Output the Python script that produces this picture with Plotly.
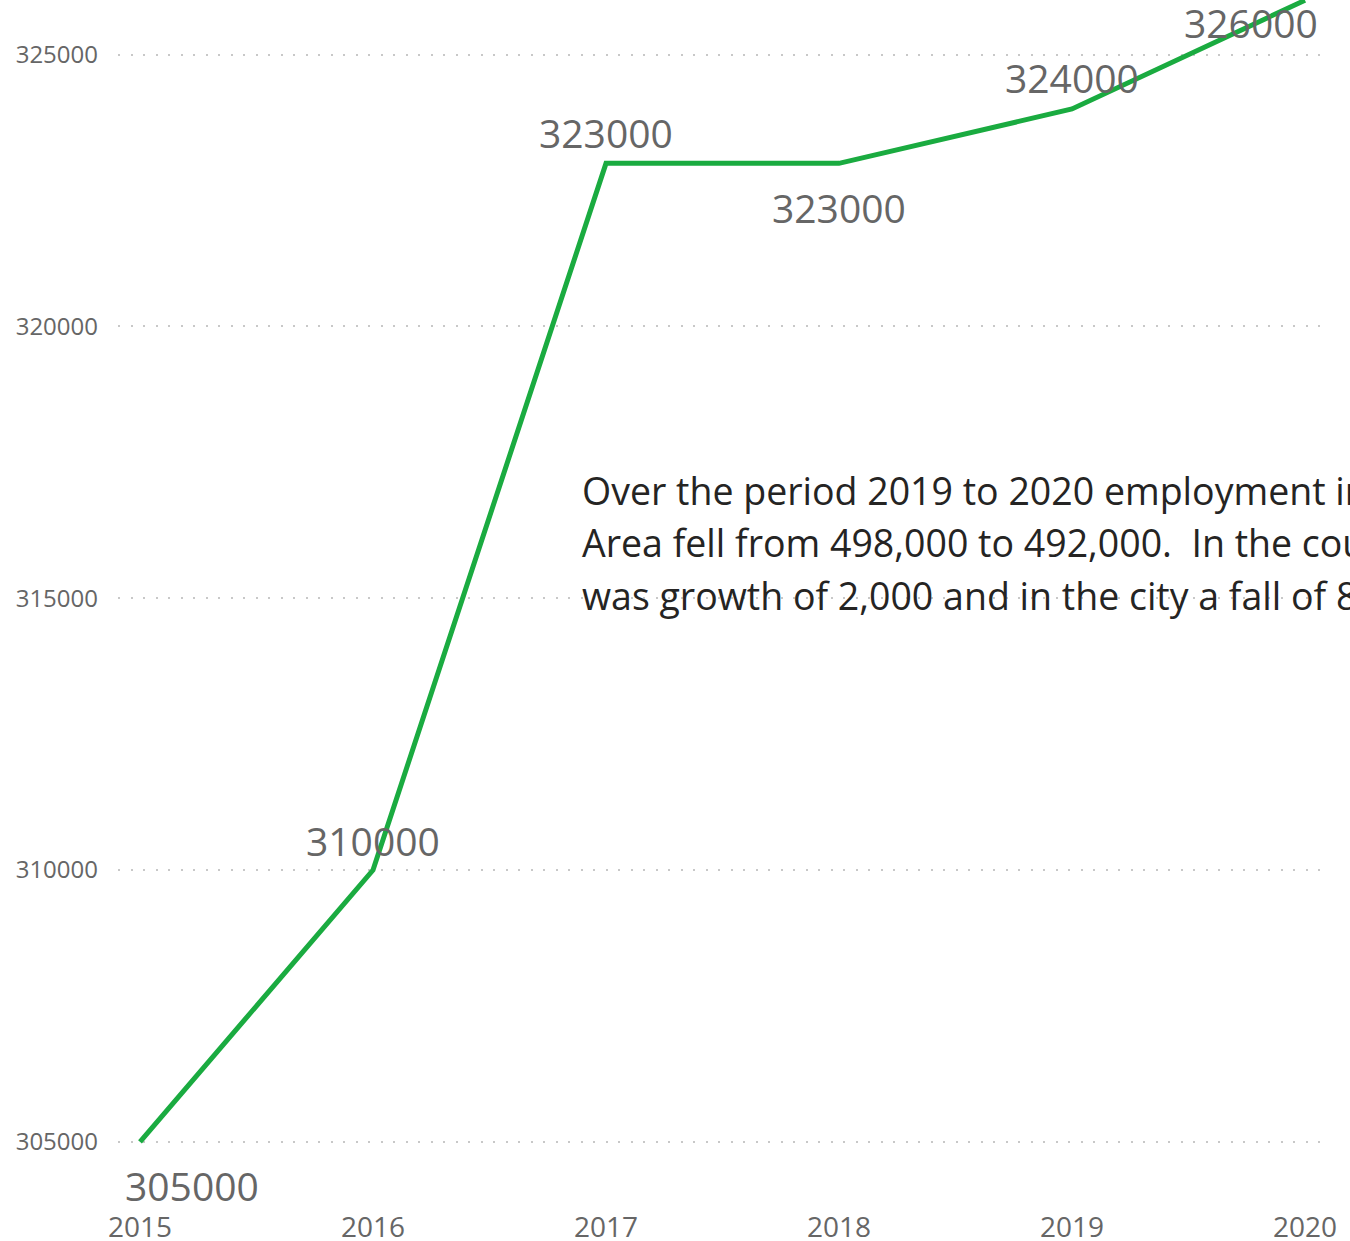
import plotly.graph_objects as go

# ---------------------------------------------------------------------------
# Data
# ---------------------------------------------------------------------------
years = [2015, 2016, 2017, 2018, 2019, 2020]
employment = [305000, 310000, 323000, 323000, 324000, 326000]
y_ticks = [305000, 310000, 315000, 320000, 325000]

note_lines = [
    "Over the period 2019 to 2020 employment in the Combined Authority",
    "Area fell from 498,000 to 492,000.  In the county there",
    "was growth of 2,000 and in the city a fall of 8,000.",
]

# label placement per point: (xshift, yshift) in px
label_shift = [(52, -44), (0, 30), (0, 31), (0, -44), (0, 31), (-54, -22)]

GREEN = "#1AAB40"
LABEL_GREY = "#666666"
FONT = "Segoe UI, Open Sans, sans-serif"

W, H = 1350, 1241
M_L, M_R, M_T, M_B = 118, 30, 0, 41
PLOT_W = W - M_L - M_R
PLOT_H = H - M_T - M_B

fig = go.Figure()

fig.add_trace(
    go.Scatter(
        x=years,
        y=employment,
        mode="lines",
        line={"color": GREEN, "width": 5},
        showlegend=False,
        hoverinfo="skip",
    )
)

# data labels
for yr, val, (dx, dy) in zip(years, employment, label_shift):
    fig.add_annotation(
        x=yr,
        y=val,
        text=str(val),
        showarrow=False,
        xshift=dx,
        yshift=dy,
        font={"size": 39, "color": LABEL_GREY, "family": FONT},
    )

# white panel behind the note (hides the gridline, as in the original)
fig.add_shape(
    type="rect",
    xref="paper",
    yref="paper",
    x0=(565 - M_L) / PLOT_W,
    x1=1.2,
    y0=1 - (630 - M_T) / PLOT_H,
    y1=1 - (458 - M_T) / PLOT_H,
    fillcolor="white",
    line={"width": 0},
    layer="between",
)

for i, line in enumerate(note_lines):
    fig.add_annotation(
        xref="paper",
        yref="paper",
        x=(580 - M_L) / PLOT_W,
        y=1 - (490 + 52.5 * i - M_T) / PLOT_H,
        xanchor="left",
        yanchor="middle",
        text=line,
        showarrow=False,
        align="left",
        font={"size": 37.5, "color": "#252423", "family": FONT},
    )

fig.update_layout(
    width=W,
    height=H,
    margin={"l": M_L, "r": M_R, "t": M_T, "b": M_B},
    paper_bgcolor="white",
    plot_bgcolor="white",
    font={"family": FONT},
    xaxis={
        "range": [2015 - 22 / 233, 2020 + 15 / 233],
        "tickvals": years,
        "showgrid": False,
        "zeroline": False,
        "showline": False,
        "automargin": False,
        "tickfont": {"size": 28, "color": LABEL_GREY},
        "ticklabelstandoff": 8,
    },
    yaxis={
        "range": [303930, 326005],
        "tickvals": y_ticks,
        "ticktext": [str(v) for v in y_ticks],
        "showgrid": True,
        "gridcolor": "#C8C8C8",
        "gridwidth": 2,
        "griddash": "2px,10.5px",
        "zeroline": False,
        "showline": False,
        "automargin": False,
        "tickfont": {"size": 24, "color": LABEL_GREY},
        "ticklabelstandoff": 19,
    },
)

fig.write_html(
    "out.html",
    config={"displayModeBar": False},
    post_script="document.body.style.margin='0';",
)
